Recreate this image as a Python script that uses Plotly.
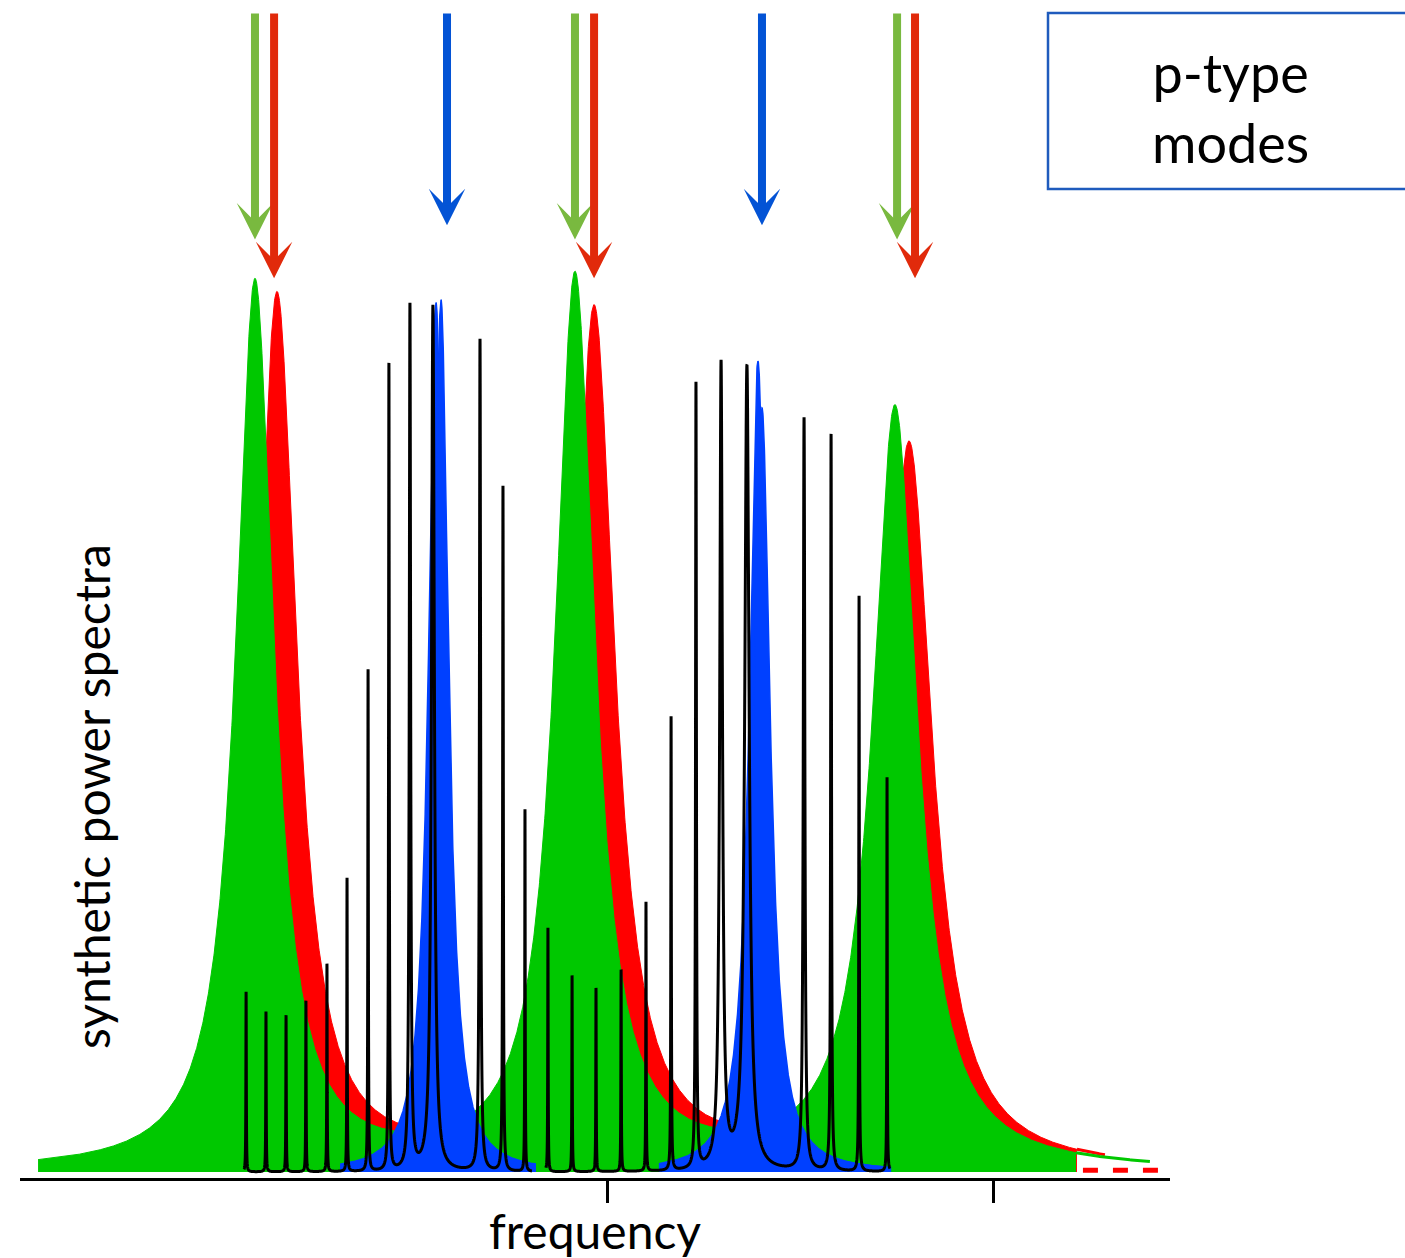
import numpy as np
import plotly.graph_objects as go

W, H = 1405, 1258

# ---------------------------------------------------------------------------
# Frequency axis (arbitrary units) and the two reference ticks
FREQ_RANGE = [69.585, 129.171]
TICK_FREQS = [100, 120]
POWER_RANGE = [-0.00667, 1.30222]

# Radial p modes (green)
GREEN_FREQ = [81.76, 98.34, 114.92]
GREEN_HEIGHT = [0.986, 0.990, 0.846]
GREEN_WIDTH = [1.19, 1.24, 1.40]
GREEN_SPAN = [70.52, 124.30]
GREEN_TAIL_END = 128.13

# Quadrupole p modes (red)
RED_FREQ = [82.90, 99.33, 115.65]
RED_HEIGHT = [0.971, 0.952, 0.805]
RED_WIDTH = [1.24, 1.30, 1.45]
RED_SPAN = [72.95, 124.35]
RED_TAIL_END = 125.80
RED_DASH_SPAN = [124.66, 129.17]

# Dipole p-dominated modes (blue), two groups
BLUE_FREQ = [91.14, 91.40, 107.82, 108.03]
BLUE_HEIGHT = [0.966, 0.969, 0.901, 0.849]
BLUE_WIDTH = [0.47, 0.47, 0.52, 0.52]
BLUE_GROUP = [0, 0, 1, 1]
BLUE_SPAN = [[86.17, 96.32], [102.69, 114.72]]

# Dipole mixed modes (black), two groups
MIXED_FREQ_1 = [81.30, 82.33, 83.37, 84.40, 85.49, 86.53, 87.62,
                88.70, 89.79, 90.98, 93.42, 94.61, 95.75]
MIXED_HEIGHT_1 = [0.200, 0.178, 0.174, 0.190, 0.231, 0.326, 0.557,
                  0.896, 0.960, 0.962, 0.924, 0.761, 0.402]
MIXED_WIDTH_1 = [0.013, 0.013, 0.013, 0.013, 0.013, 0.013, 0.016,
                 0.021, 0.041, 0.088, 0.036, 0.021, 0.013]
MIXED_SPAN_1 = [81.19, 96.11]

MIXED_FREQ_2 = [96.94, 98.19, 99.43, 100.73, 102.02, 103.32, 104.61,
                105.91, 107.25, 110.21, 111.61, 113.06, 114.51]
MIXED_HEIGHT_2 = [0.271, 0.218, 0.204, 0.224, 0.299, 0.504, 0.872,
                  0.893, 0.893, 0.836, 0.818, 0.639, 0.438]
MIXED_WIDTH_2 = [0.013, 0.013, 0.013, 0.013, 0.013, 0.016, 0.026,
                 0.083, 0.135, 0.047, 0.026, 0.016, 0.013]
MIXED_SPAN_2 = [96.84, 114.66]

# Arrows marking the p-mode frequencies
ARROW_GREEN = [81.76, 98.34, 115.03]
ARROW_RED = [82.75, 99.33, 115.96]
ARROW_BLUE = [91.71, 108.03]
ARROW_TIP = {"green": 1.036, "red": 0.993, "blue": 1.052}
ARROW_TAIL = 1.289

C_GREEN, C_RED, C_BLUE = "#00c800", "#ff0000", "#0040ff"
A_GREEN, A_RED, A_BLUE = "#79b93f", "#e12a0b", "#0353d5"
FONT = "Lato"


def grid(lo, hi, centers, widths, n_base=3000):
    """Frequency grid, refined around every Lorentzian centre."""
    parts = [np.linspace(lo, hi, n_base)]
    theta = np.linspace(-1.555, 1.555, 121)
    for c, g in zip(centers, widths):
        parts.append(c + g * np.tan(theta))
        parts.append(np.array([c]))
    x = np.unique(np.concatenate(parts))
    return x[(x >= lo) & (x <= hi)]


def lorentz(x, centers, heights, widths):
    y = np.zeros_like(x)
    for c, h, g in zip(centers, heights, widths):
        y += h / (1.0 + ((x - c) / g) ** 2)
    return y


fig = go.Figure()

# red l=2 profile (behind)
xr = grid(RED_SPAN[0], RED_SPAN[1], RED_FREQ, RED_WIDTH)
fig.add_trace(go.Scatter(x=xr, y=lorentz(xr, RED_FREQ, RED_HEIGHT, RED_WIDTH),
                         mode="lines", fill="tozeroy", fillcolor=C_RED,
                         line=dict(color=C_RED, width=1)))
xrt = np.linspace(RED_SPAN[1], RED_TAIL_END, 60)
fig.add_trace(go.Scatter(x=xrt, y=lorentz(xrt, RED_FREQ, RED_HEIGHT, RED_WIDTH),
                         mode="lines", line=dict(color=C_RED, width=3)))
fig.add_trace(go.Scatter(x=RED_DASH_SPAN, y=[0.002, 0.002], mode="lines",
                         line=dict(color=C_RED, width=5, dash="dash")))

# green l=0 profile
xg = grid(GREEN_SPAN[0], GREEN_SPAN[1], GREEN_FREQ, GREEN_WIDTH)
fig.add_trace(go.Scatter(x=xg, y=lorentz(xg, GREEN_FREQ, GREEN_HEIGHT, GREEN_WIDTH),
                         mode="lines", fill="tozeroy", fillcolor=C_GREEN,
                         line=dict(color=C_GREEN, width=1)))
xgt = np.linspace(GREEN_SPAN[1], GREEN_TAIL_END, 60)
fig.add_trace(go.Scatter(x=xgt, y=lorentz(xgt, GREEN_FREQ, GREEN_HEIGHT, GREEN_WIDTH),
                         mode="lines", line=dict(color=C_GREEN, width=3)))

# blue l=1 p-dominated modes, each one filled on its own
for f, h, g, grp in zip(BLUE_FREQ, BLUE_HEIGHT, BLUE_WIDTH, BLUE_GROUP):
    lo, hi = BLUE_SPAN[grp]
    xb = grid(lo, hi, [f], [g], n_base=1500)
    fig.add_trace(go.Scatter(x=xb, y=lorentz(xb, [f], [h], [g]),
                             mode="lines", fill="tozeroy", fillcolor=C_BLUE,
                             line=dict(color=C_BLUE, width=1.5)))

# black mixed modes
for freqs, heights, widths, span in [
        (MIXED_FREQ_1, MIXED_HEIGHT_1, MIXED_WIDTH_1, MIXED_SPAN_1),
        (MIXED_FREQ_2, MIXED_HEIGHT_2, MIXED_WIDTH_2, MIXED_SPAN_2)]:
    xm = grid(span[0], span[1], freqs, widths, n_base=4000)
    fig.add_trace(go.Scatter(x=xm, y=lorentz(xm, freqs, heights, widths),
                             mode="lines", line=dict(color="black", width=3,
                                                     simplify=False)))

annotations = []
for freqs, key, col in [(ARROW_GREEN, "green", A_GREEN),
                        (ARROW_RED, "red", A_RED),
                        (ARROW_BLUE, "blue", A_BLUE)]:
    for f in freqs:
        annotations.append(dict(
            x=f, y=ARROW_TIP[key], xref="x", yref="y",
            ax=f, ay=ARROW_TAIL, axref="x", ayref="y",
            text="", showarrow=True, arrowhead=3, arrowsize=0.76,
            arrowwidth=8, arrowcolor=col, standoff=0))


def px(v):
    return v / W


def py(v):
    return 1 - v / H


annotations += [
    dict(text="frequency", x=px(595), y=py(1230), xref="paper", yref="paper",
         showarrow=False, font=dict(family=FONT, size=48, color="black"),
         xanchor="center", yanchor="middle"),
    dict(text="synthetic power spectra", x=px(92), y=py(797),
         xref="paper", yref="paper", textangle=-90, showarrow=False,
         font=dict(family=FONT, size=48, color="black"),
         xanchor="center", yanchor="middle"),
    dict(text="p-type<br>modes", x=px(1230), y=py(107),
         xref="paper", yref="paper", showarrow=False,
         font=dict(family=FONT, size=54, color="black"),
         xanchor="center", yanchor="middle", align="center"),
]

fig.update_layout(
    width=W, height=H, autosize=False,
    margin=dict(l=0, r=0, t=0, b=0),
    paper_bgcolor="white", plot_bgcolor="white",
    showlegend=False,
    annotations=annotations,
    shapes=[dict(type="rect", xref="paper", yref="paper",
                 x0=px(1048), x1=px(1420), y0=py(189), y1=py(13),
                 line=dict(color="#1f5bbd", width=2.5), fillcolor="rgba(0,0,0,0)")],
    xaxis=dict(domain=[px(20), px(1170)], range=FREQ_RANGE,
               showline=True, linecolor="black", linewidth=3,
               ticks="outside", tickvals=TICK_FREQS, ticklen=22, tickwidth=3,
               tickcolor="black", showticklabels=False,
               showgrid=False, zeroline=False, fixedrange=True),
    yaxis=dict(domain=[py(1178), 1], range=POWER_RANGE, visible=False,
               fixedrange=True),
)

fig.write_html("out.html")
